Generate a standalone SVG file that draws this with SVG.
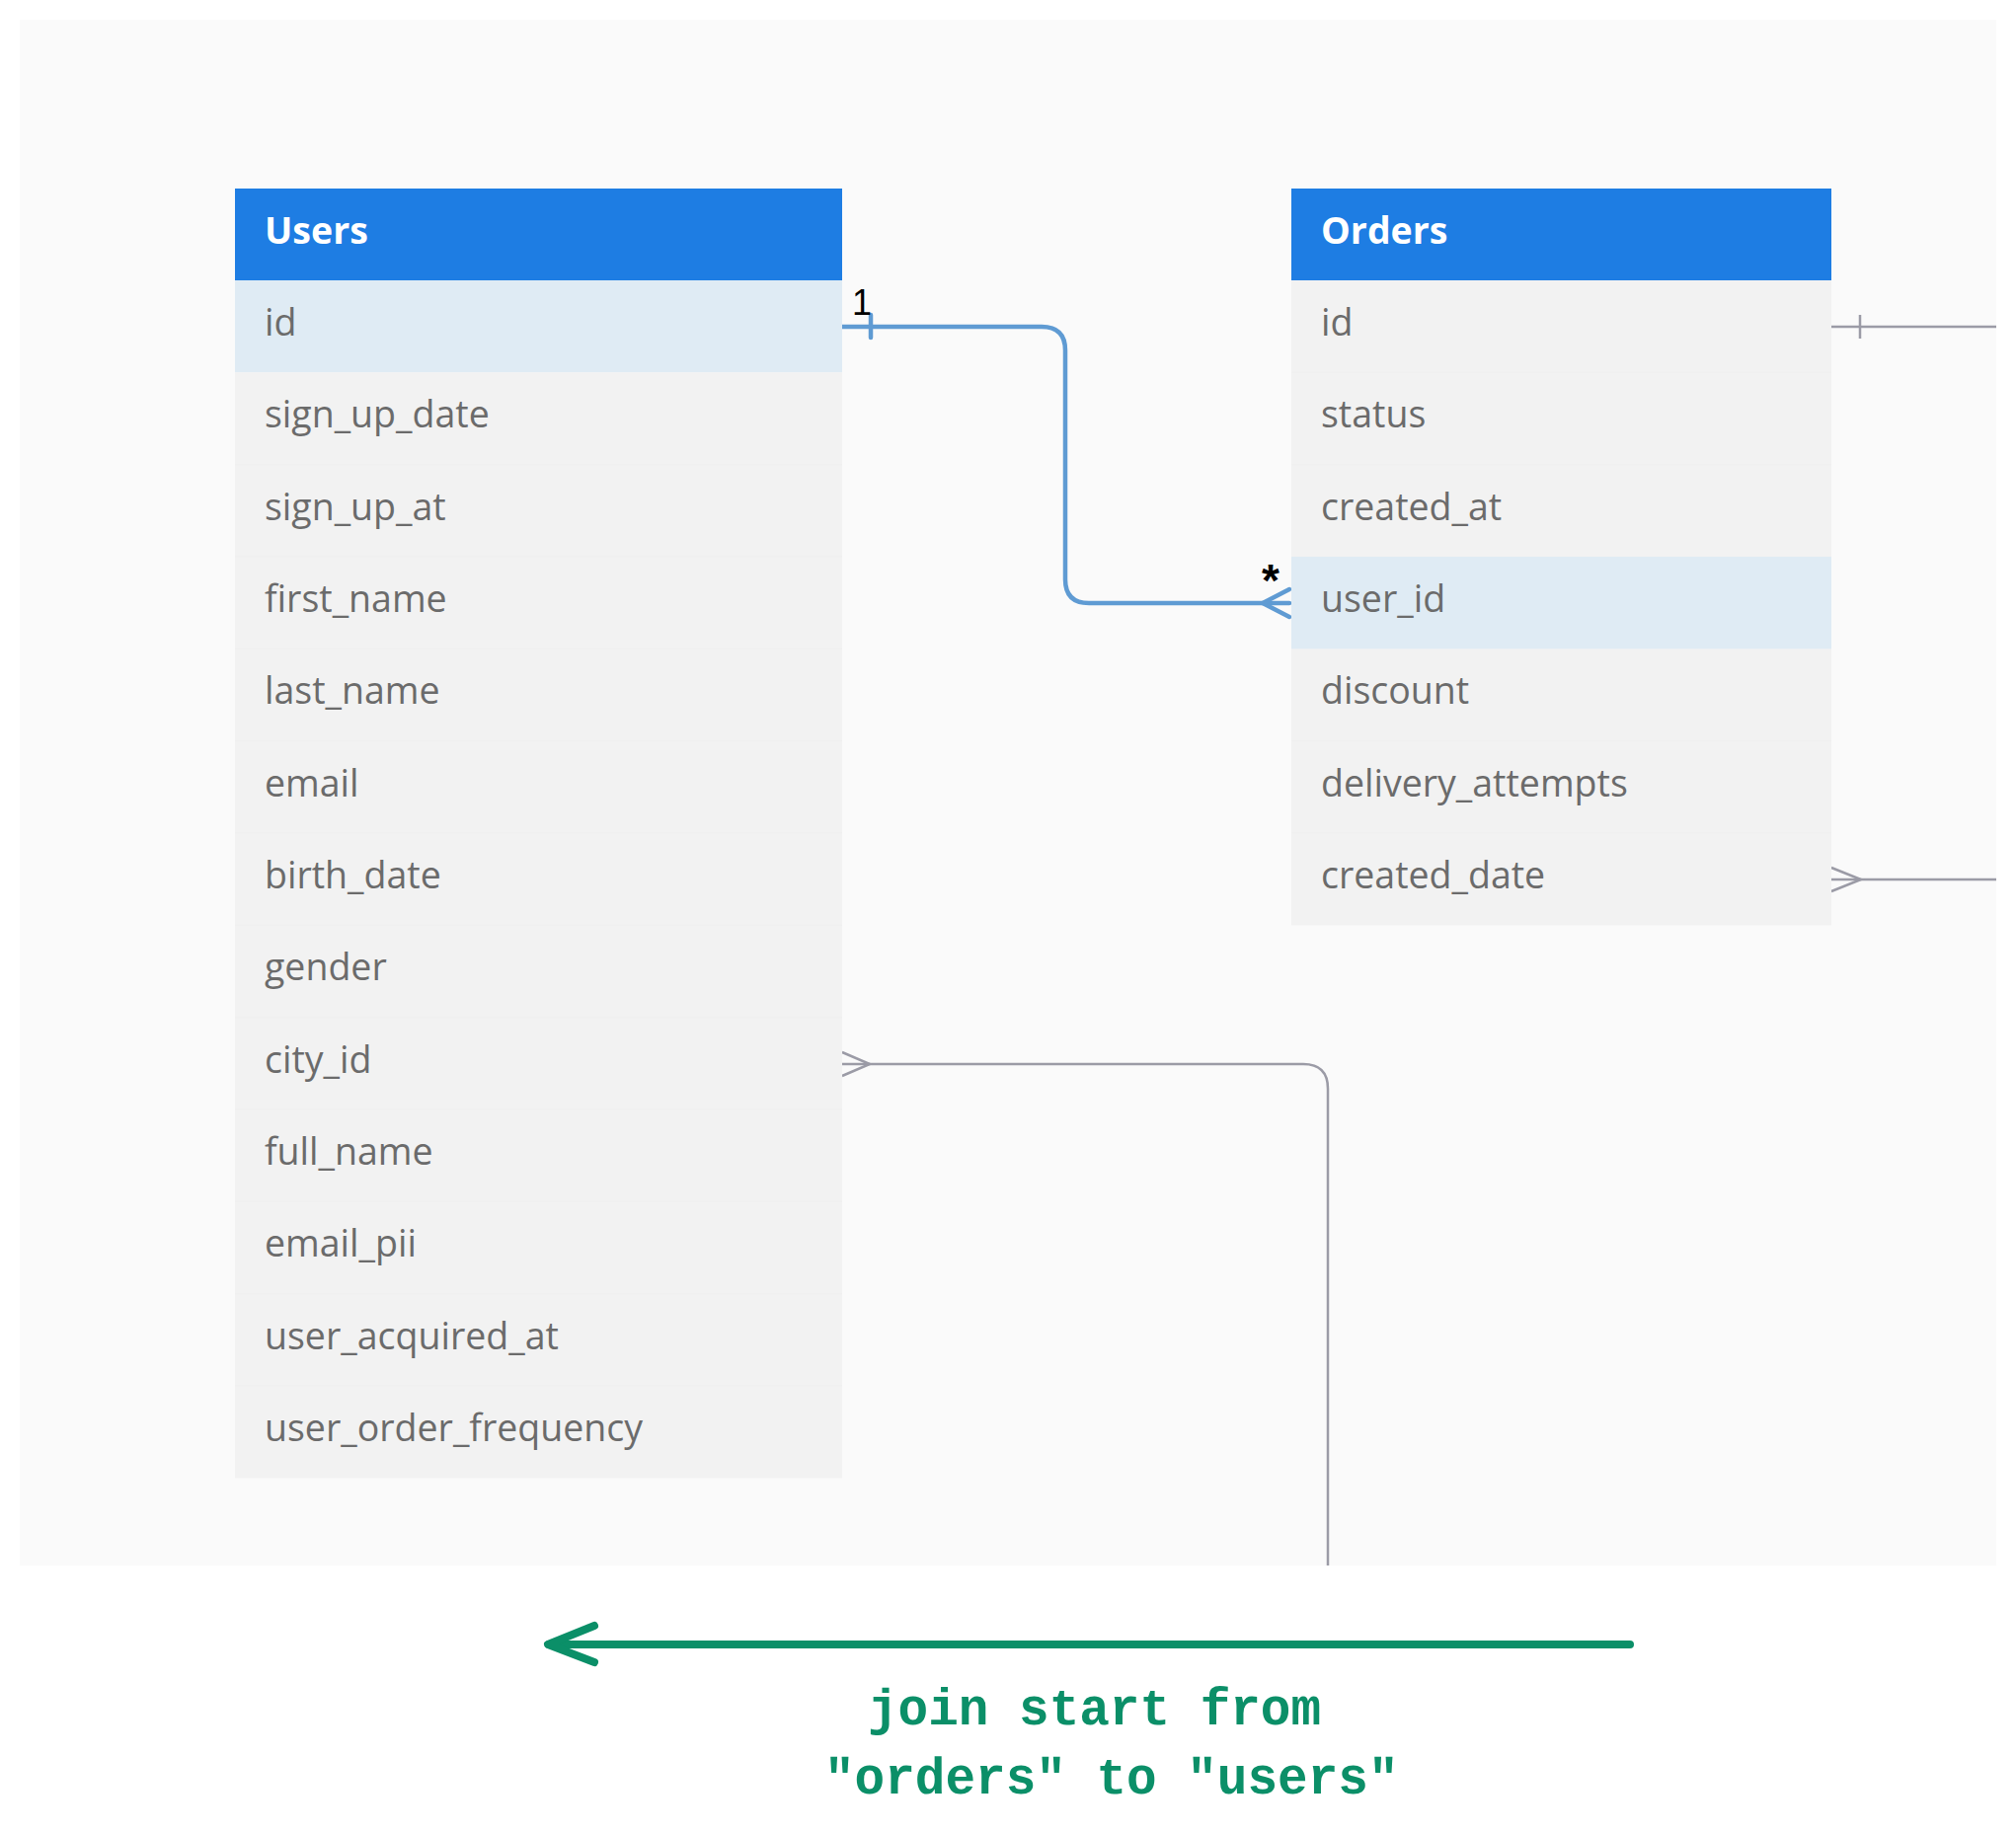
<svg xmlns="http://www.w3.org/2000/svg" width="2042" height="1857" viewBox="0 0 2042 1857">
<style>
.hdr{fill:#1e7de3}
.row{fill:#f2f2f2}
.hl{fill:#dfebf4}
.ht{font-family:"Open Sans","Noto Sans",sans-serif;font-weight:700;font-size:37.5px;fill:#ffffff}
.ft{font-family:"Open Sans","Noto Sans",sans-serif;font-size:37.5px;fill:#6b6b6b}
.sep{stroke:#efefef;stroke-width:1}
.blue{fill:none;stroke:#5f9bd3;stroke-width:4.5;stroke-linecap:round;stroke-linejoin:round}
.gray{fill:none;stroke:#9b9ba6;stroke-width:2.5}
.card{font-family:"Liberation Sans",Arial,sans-serif;font-size:36px;fill:#000}
.note{font-family:"Liberation Mono","DejaVu Sans Mono",monospace;font-size:51px;font-weight:700;fill:#0b8f68}
</style>
<rect x="0" y="0" width="2042" height="1857" fill="#ffffff"/>
<rect x="20" y="20" width="2002" height="1566" fill="#fafafa"/>

<g id="connectors">
  <path class="blue" d="M853,331 H1055 Q1079,331 1079,355 V587 Q1079,611 1103,611 H1306"/>
  <line class="blue" x1="882" y1="319" x2="882" y2="342"/>
  <path class="blue" d="M1306,597 L1279,611 L1306,625"/>
  <text class="card" x="863" y="319">1</text>
  <text class="card" x="1287" y="604" text-anchor="middle" style="font-size:46px;font-weight:700">*</text>
  <path class="gray" d="M853,1078 H1320 Q1345,1078 1345,1103 V1586"/>
  <path class="gray" d="M853,1066 L881,1078 L853,1090"/>
  <line class="gray" x1="1855" y1="331" x2="2022" y2="331"/>
  <line class="gray" x1="1884" y1="319" x2="1884" y2="343"/>
  <line class="gray" x1="1855" y1="891" x2="2022" y2="891"/>
  <path class="gray" d="M1855,879 L1885,891 L1855,903"/>
  <g id="join-arrow">
    <line x1="556" y1="1666" x2="1651" y2="1666" stroke="#0b8f68" stroke-width="8" stroke-linecap="round"/>
    <path d="M602,1647 L555,1666 L602,1684" fill="none" stroke="#0b8f68" stroke-width="8" stroke-linecap="round" stroke-linejoin="round"/>
  </g>
</g>

<g id="users">
  <rect class="hdr" x="238" y="191" width="615" height="93"/>
  <text class="ht" x="268" y="247">Users</text>
  <rect class="hl" x="238" y="284" width="615" height="93.3"/>
  <rect class="row" x="238" y="377.3" width="615" height="1120"/>
  <g class="sep">
    <line x1="238" y1="470.7" x2="853" y2="470.7"/>
    <line x1="238" y1="564" x2="853" y2="564"/>
    <line x1="238" y1="657.3" x2="853" y2="657.3"/>
    <line x1="238" y1="750.7" x2="853" y2="750.7"/>
    <line x1="238" y1="844" x2="853" y2="844"/>
    <line x1="238" y1="937.3" x2="853" y2="937.3"/>
    <line x1="238" y1="1030.7" x2="853" y2="1030.7"/>
    <line x1="238" y1="1124" x2="853" y2="1124"/>
    <line x1="238" y1="1217.3" x2="853" y2="1217.3"/>
    <line x1="238" y1="1310.7" x2="853" y2="1310.7"/>
    <line x1="238" y1="1404" x2="853" y2="1404"/>
  </g>
  <text class="ft" x="268" y="340">id</text>
  <text class="ft" x="268" y="433.3">sign_up_date</text>
  <text class="ft" x="268" y="526.7">sign_up_at</text>
  <text class="ft" x="268" y="620">first_name</text>
  <text class="ft" x="268" y="713.3">last_name</text>
  <text class="ft" x="268" y="806.7">email</text>
  <text class="ft" x="268" y="900">birth_date</text>
  <text class="ft" x="268" y="993.3">gender</text>
  <text class="ft" x="268" y="1086.7">city_id</text>
  <text class="ft" x="268" y="1180">full_name</text>
  <text class="ft" x="268" y="1273.3">email_pii</text>
  <text class="ft" x="268" y="1366.7">user_acquired_at</text>
  <text class="ft" x="268" y="1460">user_order_frequency</text>
</g>

<g id="orders">
  <rect class="hdr" x="1308" y="191" width="547" height="93"/>
  <text class="ht" x="1338" y="247">Orders</text>
  <rect class="row" x="1308" y="284" width="547" height="653.3"/>
  <rect class="hl" x="1308" y="564" width="547" height="93.3"/>
  <g class="sep">
    <line x1="1308" y1="377.3" x2="1855" y2="377.3"/>
    <line x1="1308" y1="470.7" x2="1855" y2="470.7"/>
    <line x1="1308" y1="750.7" x2="1855" y2="750.7"/>
    <line x1="1308" y1="844" x2="1855" y2="844"/>
  </g>
  <text class="ft" x="1338" y="340">id</text>
  <text class="ft" x="1338" y="433.3">status</text>
  <text class="ft" x="1338" y="526.7">created_at</text>
  <text class="ft" x="1338" y="620">user_id</text>
  <text class="ft" x="1338" y="713.3">discount</text>
  <text class="ft" x="1338" y="806.7">delivery_attempts</text>
  <text class="ft" x="1338" y="900">created_date</text>
</g>

<g id="note">
  <text class="note" x="879" y="1747">join start from</text>
  <text class="note" x="835" y="1817">"orders" to "users"</text>
</g>
</svg>
